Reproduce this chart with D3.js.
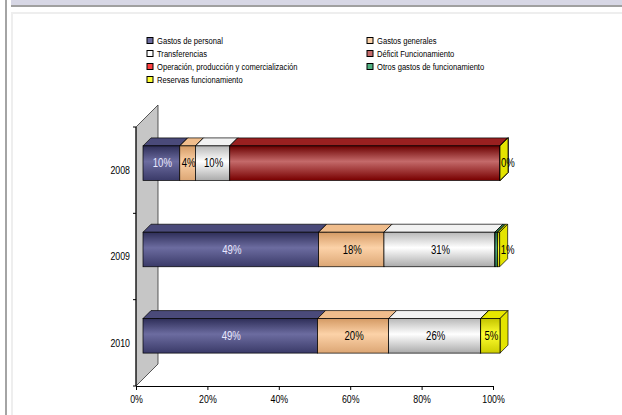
<!DOCTYPE html>
<html>
<head>
<meta charset="utf-8">
<script src="https://cdn.jsdelivr.net/npm/d3@7"></script>
<style>
  body { margin: 0; background: #fff; }
  svg text { font-family: "Liberation Sans", Arial, sans-serif; }
</style>
</head>
<body>
<div id="chart"></div>
<script>
// categorias (años) y series, en orden de apilado
const years = ['2008', '2009', '2010']
const seriesNames = [
  'Gastos de personal',
  'Gastos generales',
  'Transferencias',
  'Déficit Funcionamiento',
  'Operación, producción y comercialización',
  'Otros gastos de funcionamiento',
  'Reservas funcionamiento'
]
// porcentajes, por año
const gastosPersonal   = [10.3, 49.2, 48.9]
const gastosGenerales  = [4.4, 18.3, 19.9]
const transferencias   = [9.6, 31.1, 25.8]
const deficit          = [75.7, 0, 0]
const operacion        = [0, 0, 0]
const otrosGastos      = [0, 0.7, 0]
const reservas         = [0, 0.6, 5.4]
const showLabel        = [true, true, true, false, false, false, true]
const xTicks = [0, 20, 40, 60, 80, 100]

const values = [gastosPersonal, gastosGenerales, transferencias, deficit, operacion, otrosGastos, reservas]

const colors = [
  { top: '#4a4a7a', g: ['#2e2e58', '#6c6ca0', '#3a3a68'], side: '#3a3a66', text: '#e8e8ff' },
  { top: '#f0bd8c', g: ['#d49a64', '#fcd2a8', '#dca674'], side: '#d8a070', text: '#000' },
  { top: '#f2f2f2', g: ['#b8b8b8', '#ffffff', '#aaaaaa'], side: '#cccccc', text: '#000' },
  { top: '#9a2020', g: ['#6a0000', '#c46a6a', '#780000'], side: '#800000', text: '#000' },
  { top: '#e01010', g: ['#b00000', '#ff4040', '#c00000'], side: '#cc0000', text: '#000' },
  { top: '#3c9c6c', g: ['#1e6a44', '#52b282', '#287a50'], side: '#2a7a50', text: '#000' },
  { top: '#e8e800', g: ['#c4c400', '#ffff30', '#cccc00'], side: '#e4e400', text: '#000' }
]

const W = 622, H = 415
const squeeze = 0.8 // la fuente original es estrecha
const svg = d3.select('#chart').append('svg').attr('width', W).attr('height', H)

// texto estrecho: se escala en horizontal
function addText(parent, tx, ty, str, size, anchor, fill) {
  return parent.append('text')
    .attr('transform', `translate(${tx},${ty}) scale(${squeeze},1)`)
    .attr('dy', '0.35em').attr('text-anchor', anchor)
    .attr('font-size', size).attr('fill', fill).text(str)
}

// marco de la pagina
svg.append('rect').attr('x', 11).attr('y', 0).attr('width', W - 11).attr('height', 5).attr('fill', '#d7d7e5')
svg.append('rect').attr('x', 11).attr('y', 5).attr('width', W - 11).attr('height', 2).attr('fill', '#a0a0a0')
svg.append('rect').attr('x', 5).attr('y', 0).attr('width', 2).attr('height', H).attr('fill', '#a4a4a4')
svg.append('rect').attr('x', 11).attr('y', 12).attr('width', W - 11).attr('height', 2).attr('fill', '#eeeeee')
svg.append('rect').attr('x', 11).attr('y', 12).attr('width', 2).attr('height', H).attr('fill', '#eeeeee')

const x = d3.scaleLinear().domain([0, 100]).range([136, 493])
const y = d3.scaleBand().domain(years).range([127, 386]).paddingInner(0.6).paddingOuter(0.3)

const depth = 22   // profundidad de la pared
const off = 7      // desplazamiento de la cara frontal de la barra
const bd = 8       // profundidad de la barra

const defs = svg.append('defs')
colors.forEach((c, i) => {
  const lg = defs.append('linearGradient').attr('id', 'g' + i)
    .attr('x1', 0).attr('y1', 0).attr('x2', 0).attr('y2', 1)
  lg.append('stop').attr('offset', '0%').attr('stop-color', c.g[0])
  lg.append('stop').attr('offset', '45%').attr('stop-color', c.g[1])
  lg.append('stop').attr('offset', '100%').attr('stop-color', c.g[2])
})

// pared izquierda
const y0 = y.range()[0], y1 = y.range()[1], x0 = x(0)
svg.append('path')
  .attr('d', `M${x0},${y0} L${x0 + depth},${y0 - depth} L${x0 + depth},${y1 - depth} L${x0},${y1} Z`)
  .attr('fill', '#c6c6c6').attr('stroke', '#333').attr('stroke-width', 0.8)

// eje de categorias
svg.append('line').attr('x1', x0).attr('x2', x0).attr('y1', y0).attr('y2', y1)
  .attr('stroke', '#000').attr('stroke-width', 1)
d3.range(years.length + 1).forEach(i => {
  const yy = y0 + i * y.step()
  svg.append('line').attr('x1', x0 - 3).attr('x2', x0).attr('y1', yy).attr('y2', yy)
    .attr('stroke', '#000').attr('stroke-width', 1)
})
const catAxis = svg.append('g')
years.forEach(d => addText(catAxis, x0 - 6, y(d) + y.bandwidth() / 2, d, 11, 'end', '#000'))

// eje X
svg.append('g').attr('transform', `translate(0,${y1})`)
  .call(d3.axisBottom(x).tickValues(xTicks).tickFormat(d => d + '%').tickSize(4).tickPadding(5))
  .call(g => g.select('.domain').attr('stroke', '#000'))
  .call(g => g.selectAll('.tick line').attr('stroke', '#000'))
  .call(g => g.selectAll('text').attr('font-size', 11).attr('fill', '#000')
    .attr('transform', `scale(${squeeze},1)`)
    .style('font-family', '"Liberation Sans", Arial, sans-serif'))

// barras apiladas en 3D
const bars = svg.append('g')
years.forEach((yr, j) => {
  let acc = 0
  const top = y(yr) - off
  const bot = top + y.bandwidth()
  values.forEach((vals, i) => {
    const v = vals[j]
    const a = x(acc) + off, b = x(acc + v) + off
    acc += v
    const c = colors[i]
    const g = bars.append('g')
    g.append('path')
      .attr('d', `M${a},${top} L${a + bd},${top - bd} L${b + bd},${top - bd} L${b},${top} Z`)
      .attr('fill', c.top).attr('stroke', '#000').attr('stroke-width', 0.7)
    g.append('path')
      .attr('d', `M${b},${top} L${b + bd},${top - bd} L${b + bd},${bot - bd} L${b},${bot} Z`)
      .attr('fill', c.side).attr('stroke', '#000').attr('stroke-width', 0.7)
    if (b - a > 0) {
      g.append('rect').attr('x', a).attr('y', top).attr('width', b - a).attr('height', bot - top)
        .attr('fill', `url(#g${i})`).attr('stroke', '#000').attr('stroke-width', 0.7)
    }
  })
})

// etiquetas de datos
const labels = svg.append('g')
years.forEach((yr, j) => {
  let acc = 0
  const cy = y(yr) - off + y.bandwidth() / 2
  values.forEach((vals, i) => {
    const v = vals[j]
    const a = x(acc) + off, b = x(acc + v) + off
    acc += v
    if (!showLabel[i]) return
    const narrow = b - a < 12
    addText(labels, narrow ? b + 1 : (a + b) / 2 + 1, cy, Math.round(v) + '%', 12,
      narrow ? 'start' : 'middle', colors[i].text)
  })
})

// leyenda
const legend = svg.append('g')
seriesNames.forEach((name, i) => {
  const lx = i % 2 === 0 ? 147 : 367
  const ly = 41 + Math.floor(i / 2) * 13
  legend.append('rect').attr('x', lx).attr('y', ly - 3.5).attr('width', 6).attr('height', 6)
    .attr('fill', colors[i].g[1]).attr('stroke', '#000').attr('stroke-width', 1)
  addText(legend, lx + 10, ly, name, 9.5, 'start', '#000')
})
</script>
</body>
</html>
